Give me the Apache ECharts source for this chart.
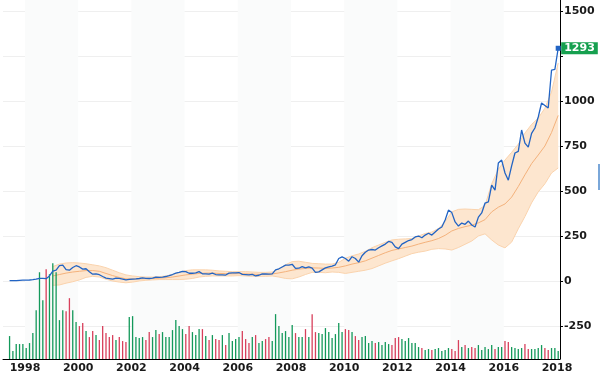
<!DOCTYPE html>
<html><head><meta charset="utf-8">
<script src="https://cdn.jsdelivr.net/npm/echarts@6/dist/echarts.min.js"></script>
<style>html,body{margin:0;padding:0;background:#fff}#c{width:600px;height:379px}</style>
</head><body><div id="c"></div>
<script>
// ---- data (decimal years) ----
const startYear = 1997.42;   // first sample
const stepYears = 0.125;     // sampling step
const price = [
1.6, 2.0, 2.5, 4.0, 4.5, 5.0, 5.5, 7.5, 10, 15,
15, 13, 28, 55, 60, 85, 88, 63, 60, 75,
85, 78, 66, 68, 52, 38, 40, 35, 25, 16,
13, 10, 16, 15, 11, 6, 9, 11, 12, 14,
17, 15, 14, 16, 22, 20, 22, 25, 30, 36,
44, 48, 54, 52, 43, 43, 45, 52, 40, 40,
38, 44, 36, 34, 34, 33, 44, 45, 45, 47,
37, 36, 34, 37, 28, 32, 40, 39, 38, 40,
62, 68, 78, 88, 88, 93, 70, 71, 80, 73,
78, 72, 48, 51, 62, 73, 78, 83, 90, 125,
134, 125, 110, 135, 125, 105, 140, 160, 172, 175,
172, 185, 195, 205, 220, 215, 190, 180, 205, 215,
225, 230, 245, 250, 240, 255, 265, 255, 272, 289,
300, 339, 394, 380, 328, 305, 322, 315, 333, 311,
300, 355, 378, 433, 440, 533, 505, 655, 672, 600,
560, 640, 711, 720, 839, 766, 744, 820, 850, 911,
989, 975, 961, 1172, 1176, 1293
];
const volume = [
23, 8, 15, 15, 15, 11, 16, 26, 49, 87,
59, 90, 85, 96, 87, 39, 49, 48, 61, 49,
37, 33, 36, 28, 22, 28, 24, 19, 33, 26,
22, 24, 19, 22, 18, 17, 42, 43, 22, 21,
22, 19, 27, 22, 29, 25, 27, 22, 22, 29,
39, 33, 30, 25, 33, 27, 24, 30, 30, 23,
19, 24, 20, 19, 24, 14, 26, 18, 20, 22,
28, 20, 16, 22, 24, 16, 18, 20, 22, 18,
45, 33, 26, 28, 22, 34, 26, 22, 22, 30,
22, 45, 27, 26, 25, 31, 27, 21, 25, 36,
27, 30, 29, 27, 23, 19, 22, 23, 16, 18,
16, 17, 14, 17, 15, 14, 21, 22, 20, 18,
21, 16, 16, 12, 11, 9, 10, 9, 10, 11,
8, 9, 11, 10, 8, 19, 12, 14, 11, 12,
11, 14, 9, 12, 10, 14, 10, 12, 12, 18,
17, 12, 11, 10, 11, 15, 10, 10, 10, 11,
14, 11, 9, 11, 11, 8
];
const bandStart = 1999.045;
const bandStep = 0.25;
const bandUpper = [
80, 94, 100, 102, 100, 96, 90, 84, 74, 60,
46, 34, 28, 24, 22, 22, 24, 28, 36, 48,
58, 62, 62, 62, 60, 56, 54, 52, 52, 52,
50, 48, 48, 50, 68, 90, 108, 110, 104, 98,
96, 94, 94, 104, 126, 140, 150, 165, 185, 200,
215, 228, 232, 234, 236, 250, 264, 272, 292, 330,
384, 398, 400, 398, 396, 420, 540, 620, 672, 715,
760, 822, 870, 905, 960, 1050, 1211
];
const bandMiddle = [
28, 36, 44, 50, 54, 58, 58, 54, 42, 30,
20, 12, 11, 12, 13, 14, 16, 18, 22, 28,
34, 38, 42, 44, 44, 42, 41, 40, 41, 40,
38, 37, 37, 39, 45, 52, 60, 66, 70, 73,
72, 70, 72, 76, 84, 94, 102, 112, 127, 142,
157, 170, 178, 186, 194, 205, 215, 224, 236, 254,
278, 292, 302, 310, 323, 341, 384, 410, 428, 466,
525, 590, 652, 700, 750, 825, 920
];
const bandLower = [
-24, -22, -12, -4, 6, 20, 26, 22, 10, 0,
-6, -10, -6, 0, 4, 6, 8, 8, 8, 8,
10, 14, 22, 26, 28, 28, 28, 28, 30, 28,
26, 26, 26, 28, 22, 14, 12, 22, 36, 48,
48, 46, 50, 48, 42, 48, 54, 60, 69, 84,
99, 112, 124, 138, 152, 160, 166, 176, 180, 178,
172, 186, 204, 222, 250, 262, 228, 200, 184, 216,
290, 358, 434, 495, 540, 600, 628
];
const yearLabels = [1998, 2000, 2002, 2004, 2006, 2008, 2010, 2012, 2014, 2016, 2018];
const yTickValues = [-250, 0, 250, 500, 750, 1000, 1250, 1500];
const yLabelValues = [-250, 0, 250, 500, 750, 1000, 1500];
const shadedPeriods = [[1998, 2000], [2002, 2004], [2006, 2008], [2010, 2012], [2014, 2016]];

// ---- build ----
const years = price.map((_, i) => startYear + i * stepYears);
const bandYears = bandUpper.map((_, i) => bandStart + i * bandStep);
const priceData = years.map((t, i) => [t, price[i]]);
const volData = years.map((t, i) => ({
  value: [t, volume[i]],
  itemStyle: { color: (i === 0 || price[i] >= price[i - 1]) ? '#13995a' : '#d8405c' }
}));
const pair = (arr) => bandYears.map((t, i) => [t, arr[i]]);
const last = priceData[priceData.length - 1];

const font = { fontFamily: 'DejaVu Sans', fontWeight: 'bold', fontSize: 11, color: '#1a1a1a' };
const chart = echarts.init(document.getElementById('c'), null, { renderer: 'canvas' });
chart.setOption({
  animation: false,
  grid: { left: 3, right: 40, top: 0, bottom: 20, containLabel: false },
  xAxis: {
    type: 'value', min: 1997.173, max: 2018.113,
    axisLine: { show: true, onZero: false, lineStyle: { color: '#000', width: 1 } },
    axisTick: { show: false },
    splitLine: { show: false },
    axisLabel: Object.assign({ customValues: yearLabels, margin: 4, formatter: v => String(Math.round(v)) }, font)
  },
  yAxis: [{
    type: 'value', position: 'right', min: -433.3, max: 1561.1,
    axisLine: { show: true, onZero: false, lineStyle: { color: '#000', width: 1 } },
    axisTick: { show: true, customValues: yTickValues, length: 3, lineStyle: { color: '#000' } },
    axisLabel: Object.assign({ customValues: yLabelValues, margin: 4, formatter: v => String(v) }, font),
    splitLine: { show: true, lineStyle: { color: '#efefef', width: 1 } }
  }, {
    type: 'value', min: 0, max: 360, show: false
  }],
  series: [
    {
      type: 'custom', name: 'bandFill', coordinateSystem: 'cartesian2d',
      xAxisIndex: 0, yAxisIndex: 0, silent: true, z: 2,
      data: [[bandYears[0], bandLower[0]]],
      renderItem: (params, api) => {
        const pts = [];
        for (let i = 0; i < bandYears.length; i++) pts.push(api.coord([bandYears[i], bandUpper[i]]));
        for (let i = bandYears.length - 1; i >= 0; i--) pts.push(api.coord([bandYears[i], bandLower[i]]));
        return { type: 'polygon', shape: { points: pts }, style: { fill: '#fde6cf' }, silent: true };
      }
    },
    { type: 'line', name: 'upper', data: pair(bandUpper), showSymbol: false, silent: true, z: 2,
      lineStyle: { color: '#fad3ad', width: 1 } },
    { type: 'line', name: 'lower', data: pair(bandLower), showSymbol: false, silent: true, z: 2,
      lineStyle: { color: '#fad3ad', width: 1 } },
    { type: 'line', name: 'middle', data: pair(bandMiddle), showSymbol: false, silent: true, z: 2,
      lineStyle: { color: '#f4b27c', width: 1 } },
    { type: 'bar', name: 'volume', yAxisIndex: 1, data: volData, barWidth: 1.3, silent: true, z: 3 },
    {
      type: 'line', name: 'price', data: priceData, showSymbol: false, silent: true, z: 4,
      lineStyle: { color: '#2264c4', width: 1.3 },
      markArea: {
        silent: true, z: 1,
        itemStyle: { color: '#fafbfb', opacity: 1 },
        label: { show: false },
        data: shadedPeriods.map(p => [{ xAxis: p[0] }, { xAxis: p[1] }])
      },
      markPoint: {
        silent: true, symbol: 'rect', symbolSize: 5,
        itemStyle: { color: '#2264c4' }, label: { show: false },
        data: [{ coord: last }]
      },
      endLabel: {
        show: true, distance: 3,
        formatter: p => String(Math.round(p.value[1])),
        backgroundColor: '#16a04f', color: '#fff',
        fontFamily: 'DejaVu Sans', fontWeight: 'bold', fontSize: 11,
        padding: [1, 3, 0, 3]
      }
    }
  ],
  graphic: [{ type: 'rect', left: 598, top: 164, shape: { width: 2, height: 26 }, style: { fill: '#7aa7d9' }, silent: true }]
});
</script>
</body></html>
